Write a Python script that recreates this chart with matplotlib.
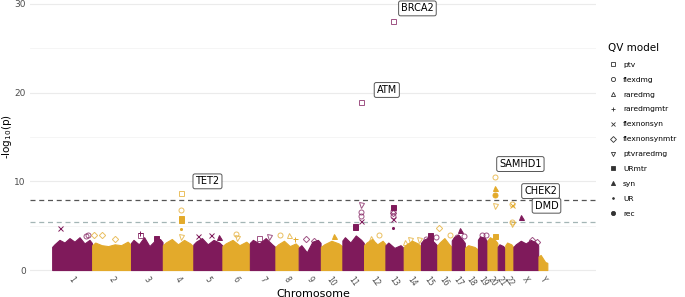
import numpy as np
import matplotlib.pyplot as plt
from matplotlib.lines import Line2D

# 染色体及其长度 (Mb)
chrom_names = [str(i) for i in range(1, 23)] + ['X', 'Y']
chrom_len = [249, 242, 198, 190, 181, 171, 159, 145, 138, 134, 135, 133,
             114, 107, 102, 90, 83, 80, 59, 64, 47, 51, 156, 57]

# 每条染色体上密集点的大致顶部高度 (-log10 p)
bulk_tops = [
    [2.9, 3.4, 3.1, 3.6, 3.2, 3.7, 3.0, 3.4],
    [3.1, 2.8, 2.7, 2.9, 2.8, 3.2],
    [3.4, 2.9, 3.7, 2.7, 3.3, 3.5],
    [3.1, 3.5, 2.9, 3.4, 3.0],
    [3.2, 3.6, 2.9, 3.4, 3.1],
    [3.0, 3.4, 2.8, 3.2],
    [3.4, 3.0, 3.6, 2.9],
    [2.9, 3.3, 2.7, 3.0],
    [2.8, 2.0, 3.2, 3.4],
    [2.9, 3.3, 3.0],
    [3.7, 3.1, 3.9, 3.4],
    [3.1, 3.5, 2.9, 3.3],
    [3.1, 2.5, 2.8],
    [2.9, 3.3, 3.0],
    [3.4, 3.7, 3.1],
    [3.1, 3.6, 2.9],
    [3.7, 4.0, 3.4],
    [2.8, 2.6],
    [3.8, 3.6],
    [3.7, 3.4],
    [2.9, 2.7],
    [3.1, 2.9],
    [2.9, 3.3, 3.0, 3.4, 3.1],
    [1.7, 0.9],
]

# 突出的点: 染色体, 染色体内相对位置, -log10(p), QV 模型
hit_chrom = ['13', '11', '4', '4', '4', '4', '4', '4',
             '11', '11', '11', '11', '11', '11',
             '13', '13', '13', '13', '13', '13',
             '20', '20', '20', '20',
             '22', '22', '22', '22', 'X',
             '1', '2', '2', '1', '3', '3', '6', '6', '5', '7', '7', '8', '8', '8', '9', '9',
             '16', '17', '17', '14', '14', '15', '15', '15', '15', '16', '17', '19', '19', '20',
             'X', 'X', '10', '12', '12', '14', '5', '5', '3', '1', '2']
hit_frac = [0.44, 0.87, 0.6, 0.6, 0.6, 0.6, 0.6, 0.6,
            0.87, 0.87, 0.87, 0.87, 0.6, 0.6,
            0.44, 0.44, 0.44, 0.44, 0.44, 0.44,
            0.8, 0.8, 0.8, 0.8,
            0.8, 0.8, 0.8, 0.8, 0.3,
            0.2, 0.25, 0.6, 0.9, 0.3, 0.28, 0.5, 0.55, 0.15, 0.35, 0.75, 0.2, 0.6, 0.85, 0.35, 0.7,
            0.15, 0.65, 0.9, 0.1, 0.4, 0.55, 0.55, 0.95, 0.3, 0.9, 0.4, 0.4, 0.9, 0.75,
            0.75, 0.95, 0.6, 0.7, 0.35, 0.9, 0.6, 0.9, 0.8, 0.85, 0.05]
hit_logp = [28.1, 18.9, 8.7, 6.8, 5.9, 5.6, 4.6, 3.7,
            7.3, 6.6, 6.1, 5.5, 5.0, 4.8,
            7.1, 6.7, 6.4, 6.1, 5.8, 4.7,
            10.5, 9.2, 8.5, 7.25,
            7.4, 7.3, 5.4, 5.2, 6.0,
            4.7, 3.9, 3.5, 3.9, 4.2, 3.9, 4.1, 3.6, 3.8, 3.6, 3.7, 3.9, 4.0, 3.5, 3.5, 3.3,
            4.7, 4.5, 3.8, 3.2, 3.4, 4.0, 3.6, 3.7, 3.5, 3.9, 3.7, 4.0, 4.0, 3.8,
            3.4, 3.2, 3.8, 3.9, 3.6, 3.4, 4.0, 3.7, 3.6, 3.8, 4.0]
hit_model = ['ptv', 'ptv', 'ptv', 'flexdmg', 'URmtr', 'URmtr', 'UR', 'ptvraredmg',
             'ptvraredmg', 'flexdmg', 'flexdmg', 'flexnonsyn', 'URmtr', 'URmtr',
             'URmtr', 'flexdmg', 'flexnonsynmtr', 'flexdmg', 'flexnonsyn', 'UR',
             'flexdmg', 'syn', 'rec', 'ptvraredmg',
             'flexdmg', 'flexnonsyn', 'flexdmg', 'ptvraredmg', 'syn',
             'flexnonsyn', 'flexnonsynmtr', 'flexnonsynmtr', 'flexdmg', 'raredmgmtr', 'ptv',
             'flexdmg', 'ptvraredmg', 'flexnonsyn', 'ptv', 'ptvraredmg', 'flexdmg', 'raredmg',
             'raredmgmtr', 'flexnonsynmtr', 'flexnonsynmtr',
             'flexnonsynmtr', 'syn', 'flexdmg', 'raredmg', 'ptvraredmg', 'URmtr', 'URmtr',
             'flexdmg', 'flexdmg', 'flexdmg', 'flexdmg', 'flexdmg', 'flexdmg', 'URmtr',
             'flexnonsynmtr', 'flexnonsynmtr', 'syn', 'flexdmg', 'raredmg', 'ptvraredmg',
             'flexnonsyn', 'syn', 'URmtr', 'flexdmg', 'flexnonsynmtr']

# 标注的基因 (对应前几个点)
gene_names = ['BRCA2', 'ATM', 'TET2', 'SAMHD1', 'CHEK2', 'DMD']
gene_hit_idx = [0, 1, 2, 20, 24, 28]

# 显著性阈值
thresholds = [7.9, 5.45]

qv_models = ['ptv', 'flexdmg', 'raredmg', 'raredmgmtr', 'flexnonsyn',
             'flexnonsynmtr', 'ptvraredmg', 'URmtr', 'syn', 'UR', 'rec']
model_marker = {'ptv': ('s', False), 'flexdmg': ('o', False), 'raredmg': ('^', False),
                'raredmgmtr': ('+', True), 'flexnonsyn': ('x', True),
                'flexnonsynmtr': ('D', False), 'ptvraredmg': ('v', False),
                'URmtr': ('s', True), 'syn': ('^', True), 'UR': ('.', True),
                'rec': ('o', True)}

purple = '#7f1a5b'
gold = '#e3aa2b'
chrom_color = [purple if i % 2 == 0 else gold for i in range(len(chrom_names))]

offsets = np.concatenate([[0], np.cumsum(chrom_len)[:-1]])
centers = offsets + np.array(chrom_len) / 2

fig = plt.figure(figsize=(6.85, 2.97), dpi=100)
ax = fig.add_axes([30 / 685, 24.3 / 297, 566 / 685, 271.4 / 297])

# 网格线
for y in [5, 15, 25]:
    ax.axhline(y, color='#f4f4f4', lw=0.6, zorder=0)
for y in [0, 10, 20, 30]:
    ax.axhline(y, color='#ebebeb', lw=0.8, zorder=0)

# 密集区域
for i, tops in enumerate(bulk_tops):
    n = len(tops)
    xs = offsets[i] + (np.arange(n) + 0.5) / n * chrom_len[i]
    xs = np.concatenate([[offsets[i] + 1], xs, [offsets[i] + chrom_len[i] - 1]])
    ys = np.concatenate([[tops[0] * 0.9], tops, [tops[-1] * 0.9]])
    ax.fill_between(xs, 0, ys, color=chrom_color[i], lw=0.8,
                    edgecolor=chrom_color[i], zorder=2)

# 显著点
for c, f, v, m in zip(hit_chrom, hit_frac, hit_logp, hit_model):
    ci = chrom_names.index(c)
    x = offsets[ci] + f * chrom_len[ci]
    col = chrom_color[ci]
    mk, filled = model_marker[m]
    size = 3 if m == 'UR' else 3.6
    if mk == 'D':
        size = 3.2
    if filled or mk in '+x':
        ax.plot(x, v, marker=mk, ms=size, color=col, mew=0.7, ls='none', zorder=3)
    else:
        ax.plot(x, v, marker=mk, ms=size, mfc='none', mec=col, mew=0.7, ls='none',
                alpha=0.75, zorder=3)

for t, col in zip(thresholds, ['#555555', '#a3b5b5']):
    ax.axhline(t, color=col, lw=0.9, ls=(0, (4, 3)), zorder=1)

# 基因标签
label_off = {'BRCA2': (150, 1.4), 'ATM': (160, 1.4), 'TET2': (165, 1.3),
             'SAMHD1': (155, 1.45), 'CHEK2': (180, 1.5), 'DMD': (160, 1.25)}
for g, idx in zip(gene_names, gene_hit_idx):
    ci = chrom_names.index(hit_chrom[idx])
    x = offsets[ci] + hit_frac[idx] * chrom_len[ci]
    dx, dy = label_off[g]
    ax.text(x + dx, hit_logp[idx] + dy, g, fontsize=7, ha='center', va='center',
            bbox=dict(boxstyle='round,pad=0.25,rounding_size=0.2', fc='white',
                      ec='#555555', lw=0.7), zorder=5)

ax.set_xlim(-137, 3387)
ax.set_ylim(-0.3, 30.3)
ax.set_xticks(centers)
ax.set_xticklabels(chrom_names, rotation=-55, fontsize=5.5, color='#4d4d4d',
                   ha='center', va='top')
ax.set_yticks([0, 10, 20, 30])
ax.set_yticklabels(['0', '10', '20', '30'], fontsize=6.5, color='#4d4d4d')
ax.tick_params(length=0, pad=3)
ax.tick_params(axis='x', pad=2)
for s in ax.spines.values():
    s.set_visible(False)
ax.set_xlabel('Chromosome', fontsize=8, labelpad=0)
ax.set_ylabel('-log$_{10}$(p)', fontsize=7.5)
ax.yaxis.set_label_coords(-16 / 566, 0.5)

handles = []
for m in qv_models:
    mk, filled = model_marker[m]
    ms = 2.5 if m == 'UR' else 3
    if filled or mk in '+x':
        h = Line2D([], [], marker=mk, ms=ms, color='#333333', mew=0.6, ls='none')
    else:
        h = Line2D([], [], marker=mk, ms=ms, mfc='none', mec='#333333', mew=0.6, ls='none')
    handles.append(h)
leg = fig.legend(handles, qv_models, title='QV model', loc='upper left',
                 bbox_to_anchor=(605 / 685, 1 - 40 / 297), frameon=False,
                 fontsize=5.4, title_fontsize=7.5, labelspacing=1.15,
                 handlelength=1.2, handletextpad=0.8, borderaxespad=0)
leg._legend_box.align = 'left'

fig.savefig('out.png', dpi=100)
